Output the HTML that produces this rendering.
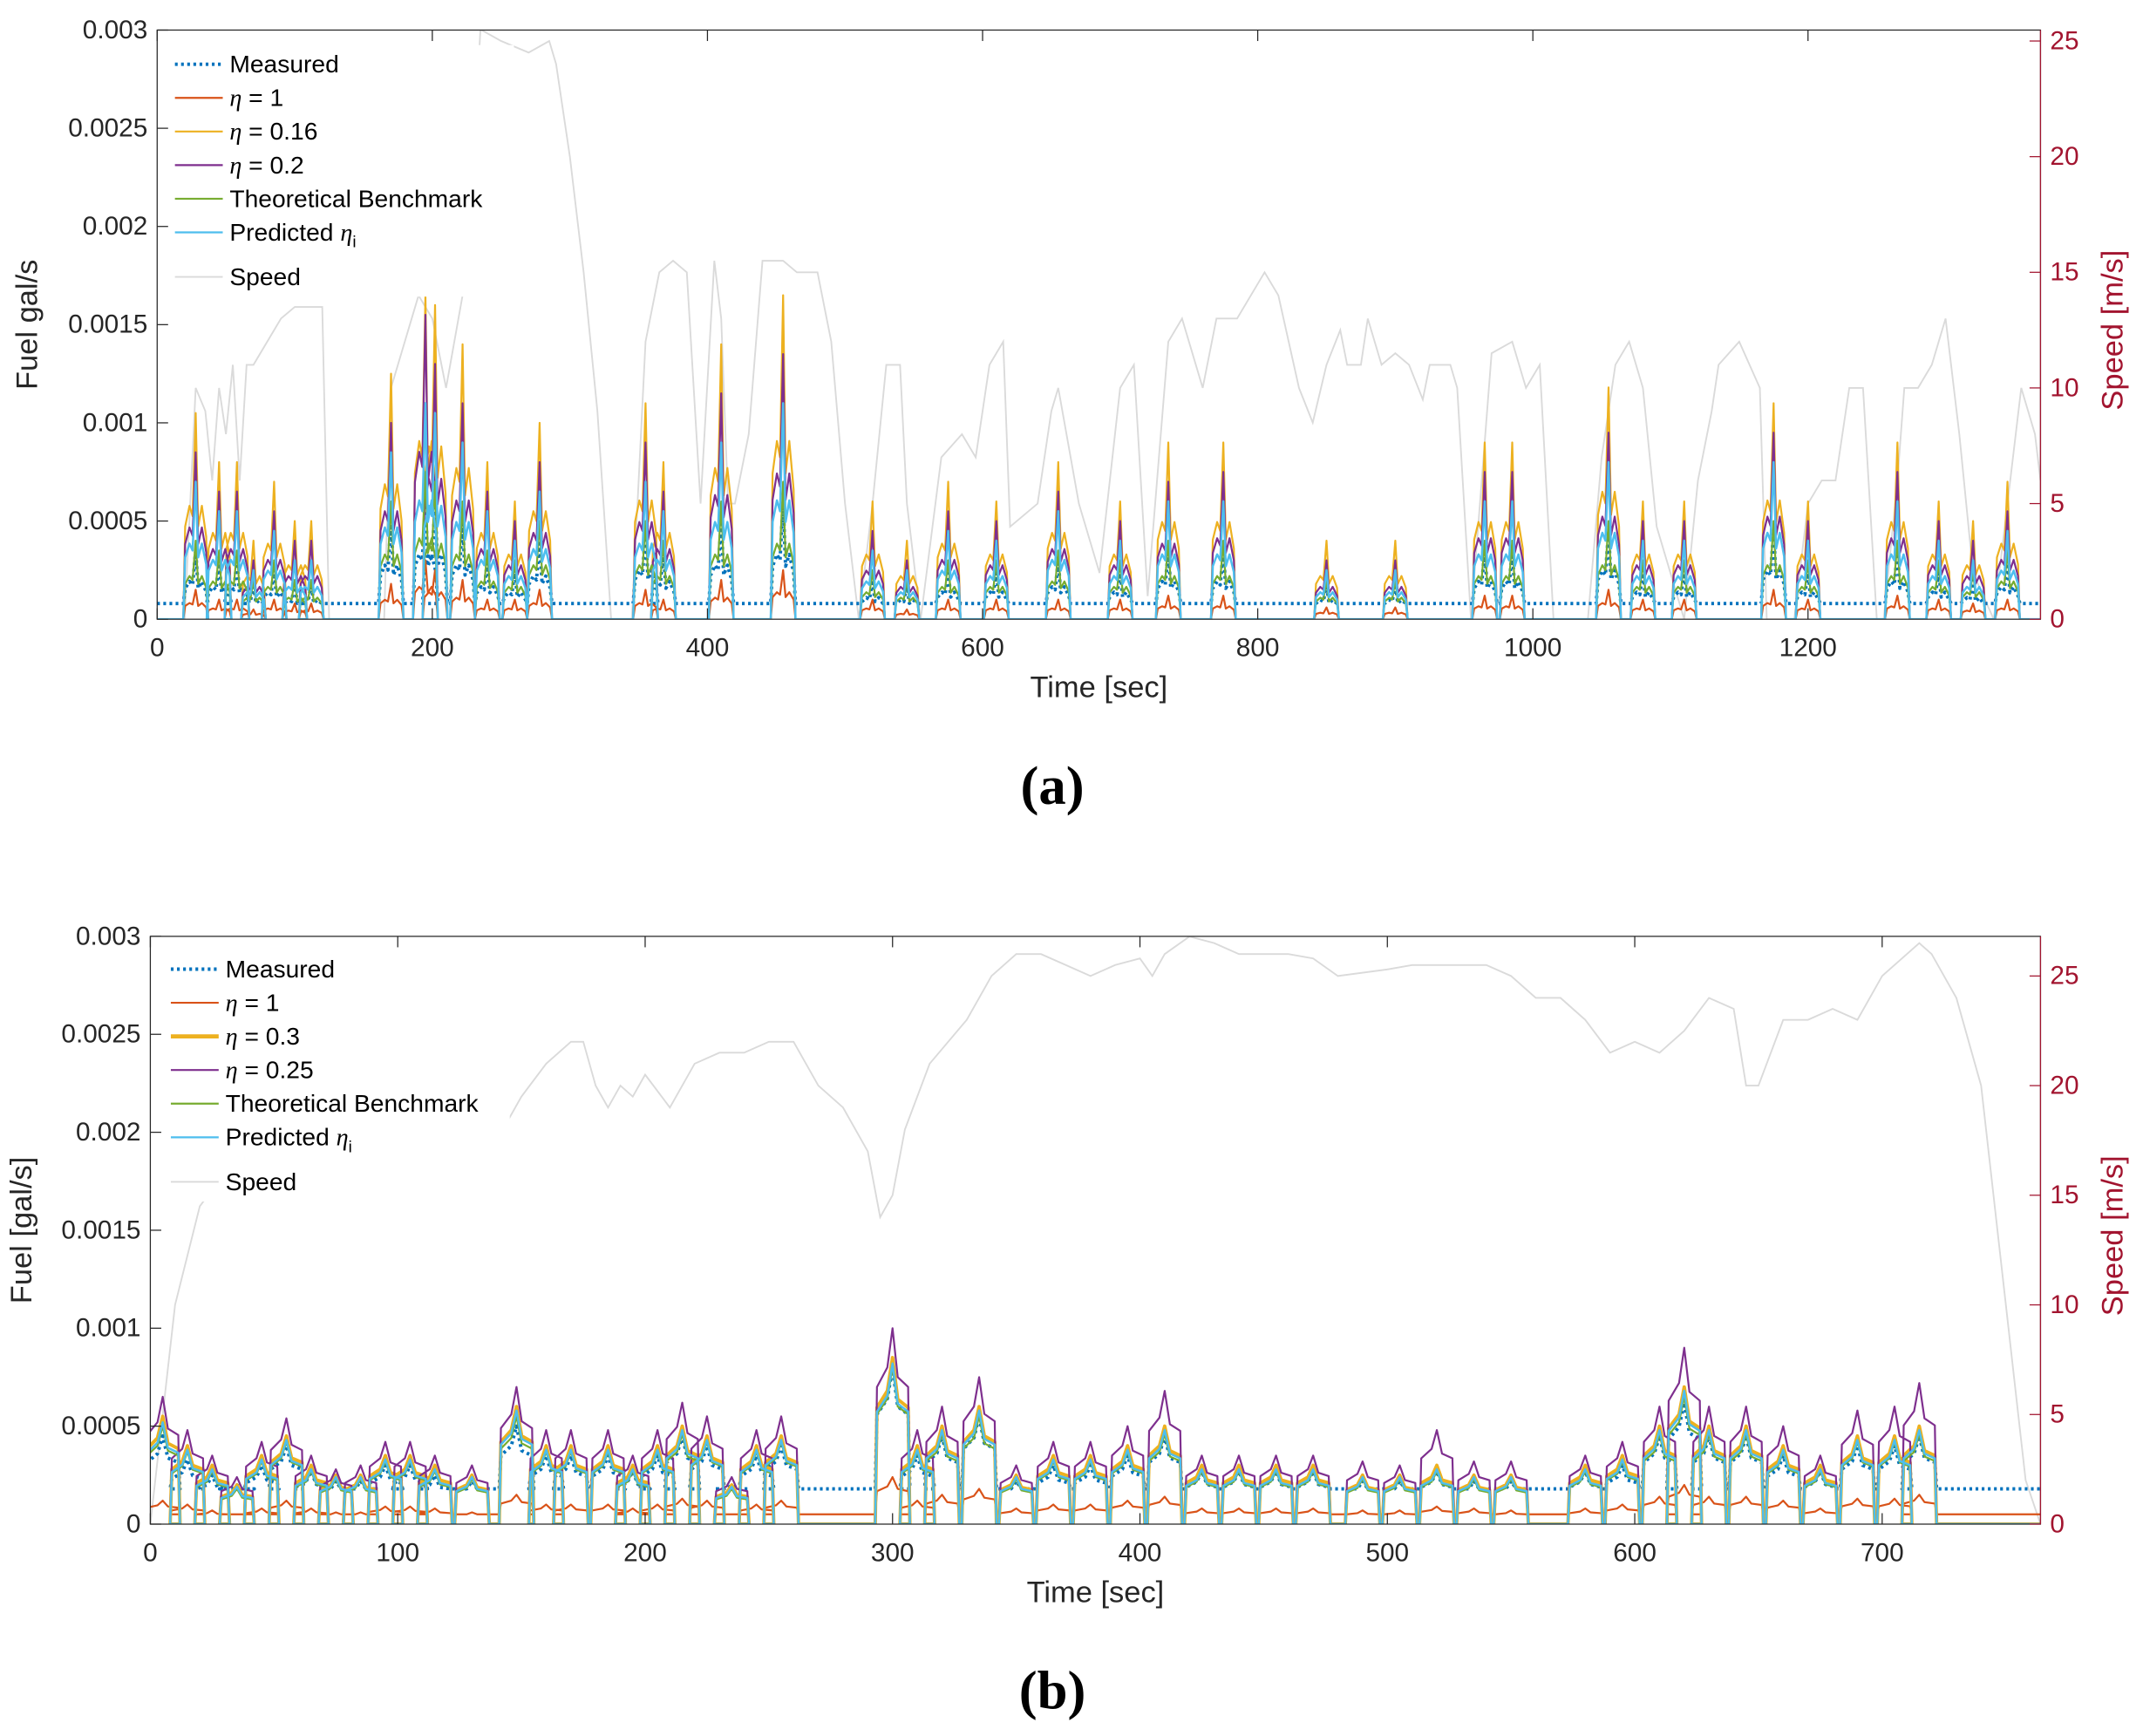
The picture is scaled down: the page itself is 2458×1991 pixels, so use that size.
<!DOCTYPE html>
<html><head><meta charset="utf-8"><style>
html,body{margin:0;padding:0;background:#fff;}
svg{display:block;font-family:"Liberation Sans",sans-serif;}
</style></head><body>
<svg id="fig" xmlns="http://www.w3.org/2000/svg" width="2458" height="1991" viewBox="0 0 1568 1270" preserveAspectRatio="none"></svg>
<script>
// ---------- Panel (a) data ----------
const aBurstTimes = [28,45,58,70,85,100,112,170,195,202,222,240,260,278,355,368,410,455,520,545,575,610,655,700,735,775,850,900,965,985,1055,1080,1110,1175,1200,1265,1295,1320,1345];
const aYellow =     [0.00105,0.0008,0.0008,0.0004,0.0007,0.0005,0.0005,0.00125,0.00165,0.0016,0.0014,0.0008,0.0006,0.001,0.0011,0.0008,0.0014,0.00165,0.0006,0.0004,0.0007,0.0006,0.0008,0.0006,0.0009,0.0009,0.0004,0.0004,0.0009,0.0009,0.00118,0.0006,0.0006,0.0011,0.0006,0.0009,0.0006,0.0005,0.0007];
const aPurple =     [0.00085,0.00065,0.00065,0.0003,0.00055,0.0004,0.0004,0.001,0.00155,0.0013,0.0011,0.00065,0.0005,0.0008,0.0009,0.00065,0.00115,0.00135,0.00045,0.0003,0.00055,0.0005,0.00065,0.0005,0.0007,0.00075,0.0003,0.0003,0.00075,0.00075,0.00095,0.0005,0.0005,0.00095,0.0005,0.00075,0.0005,0.0004,0.00055];
const aBlue =       [0.0007,0.00055,0.00055,0.00025,0.00045,0.0003,0.0003,0.00085,0.0011,0.00105,0.0009,0.00055,0.0004,0.00065,0.0007,0.00055,0.0009,0.0011,0.00035,0.00025,0.00045,0.0004,0.00055,0.0004,0.0006,0.0006,0.00025,0.00025,0.0006,0.0006,0.0008,0.0004,0.0004,0.0008,0.0004,0.0006,0.0004,0.0003,0.00045];
const aGreen =      [0.0004,0.00035,0.00035,0.0002,0.0003,0.0002,0.0002,0.0006,0.00075,0.0007,0.0006,0.00035,0.0003,0.0005,0.0005,0.0004,0.0006,0.0007,0.00025,0.0002,0.0003,0.0003,0.00035,0.0003,0.0004,0.0004,0.0002,0.0002,0.0004,0.0004,0.0005,0.0003,0.0003,0.0005,0.0003,0.0004,0.0003,0.00025,0.00035];
const aOrange =     [0.00015,0.0001,0.0001,0.00005,0.0001,0.00008,0.00008,0.00018,0.0003,0.00025,0.0002,0.0001,0.0001,0.00015,0.00015,0.0001,0.0002,0.00025,0.0001,0.00005,0.0001,0.0001,0.0001,0.0001,0.00012,0.00012,0.00006,0.00006,0.00012,0.00012,0.00015,0.0001,0.0001,0.00015,0.0001,0.00012,0.0001,0.00008,0.0001];
const aMeasured =   [0.00035,0.0003,0.0003,0.00018,0.00025,0.00018,0.00018,0.0005,0.0006,0.0006,0.0005,0.0003,0.00025,0.0004,0.00045,0.00035,0.0005,0.0006,0.0002,0.00018,0.00025,0.00025,0.0003,0.00025,0.00035,0.00035,0.00018,0.00018,0.00035,0.00035,0.00045,0.00025,0.00025,0.00045,0.00025,0.00035,0.00025,0.0002,0.0003];
const aSpeedT = [0,20,28,35,40,45,50,55,60,65,70,80,90,100,110,120,125,165,170,180,190,200,210,225,235,250,270,285,290,300,310,320,330,345,355,365,375,385,395,405,410,415,420,430,440,455,465,480,490,500,510,520,530,540,545,555,570,585,595,605,615,620,640,650,655,670,685,700,710,720,735,745,760,770,785,795,805,815,830,840,850,860,865,875,880,890,900,910,920,925,940,945,955,970,985,995,1005,1015,1040,1050,1060,1070,1080,1090,1110,1120,1130,1135,1150,1165,1170,1190,1200,1210,1220,1230,1240,1250,1255,1265,1270,1280,1290,1300,1310,1320,1335,1345,1355,1365,1369];
const aSpeedV = [0,0,10,9,6,10,8,11,6,11,11,12,13,13.5,13.5,13.5,0,0,10,12,14,13,10,15,25.5,25,24.5,25,24,20,15,9,0,0,12,15,15.5,15,5,15.5,13,5,5,8,15.5,15.5,15,15,12,5,0,5,11,11,5,0,7,8,7,11,12,4,5,9,10,5,2,10,11,1,12,13,10,13,13,14,15,14,10,8.5,11,12.5,11,11,13,11,11.5,11,9.5,11,11,10,0,11.5,12,10,11,0,0,7,11,12,10,4,0,6,9,11,12,10,0,0,5,6,6,10,10,0,0,6,10,10,11,13,8,2,0,5,10,8,6];
const aXTicks = [0,200,400,600,800,1000,1200];
const aYTicks = [0,0.0005,0.001,0.0015,0.002,0.0025,0.003];
const aYTickLabels = ["0","0.0005","0.001","0.0015","0.002","0.0025","0.003"];
const aSpeedTicks = [0,5,10,15,20,25];

// ---------- Panel (b) data ----------
const bBurstTimes = [5,15,25,35,45,55,65,75,85,95,105,115,130,148,160,170,185,195,205,215,225,235,245,255,300,310,320,335,350,365,380,395,410,425,440,455,470,490,505,520,535,550,580,595,610,620,630,645,660,675,690,705,715];
const bYellow =     [0.00055,0.0004,0.0003,0.0002,0.00035,0.00045,0.0003,0.00025,0.00025,0.00035,0.00035,0.0003,0.00025,0.0006,0.0004,0.0004,0.0004,0.0003,0.0004,0.0005,0.00045,0.0002,0.0004,0.00045,0.00085,0.0004,0.0005,0.0006,0.00025,0.00035,0.00035,0.0004,0.0005,0.0003,0.0003,0.0003,0.0003,0.00025,0.00025,0.0003,0.00025,0.00025,0.0003,0.00035,0.0005,0.0007,0.0005,0.0005,0.0004,0.0003,0.00045,0.00045,0.0005];
const bPurple =     [0.00065,0.00048,0.00035,0.00024,0.00042,0.00054,0.00035,0.00028,0.0003,0.00042,0.00042,0.00035,0.0003,0.0007,0.00048,0.00048,0.00048,0.00035,0.00048,0.00062,0.00055,0.00024,0.00048,0.00055,0.001,0.00048,0.0006,0.00075,0.0003,0.00042,0.00042,0.0005,0.00068,0.00035,0.00035,0.00035,0.00035,0.00032,0.0003,0.00048,0.00032,0.00032,0.00035,0.00042,0.0006,0.0009,0.0006,0.0006,0.0005,0.00035,0.00058,0.0006,0.00072];
const bBlue =       [0.00052,0.00038,0.00028,0.00019,0.00033,0.00043,0.00028,0.00024,0.00024,0.00033,0.00033,0.00028,0.00024,0.00058,0.00038,0.00038,0.00038,0.00028,0.00038,0.00048,0.00043,0.00019,0.00038,0.00043,0.00082,0.00038,0.00048,0.00058,0.00024,0.00033,0.00033,0.00038,0.00048,0.00028,0.00028,0.00028,0.00028,0.00024,0.00024,0.00028,0.00024,0.00024,0.00028,0.00033,0.00048,0.00068,0.00048,0.00048,0.00038,0.00028,0.00043,0.00043,0.00048];
const bGreen =      [0.0005,0.00037,0.00027,0.00018,0.00032,0.00042,0.00027,0.00023,0.00023,0.00032,0.00032,0.00027,0.00023,0.00055,0.00037,0.00037,0.00037,0.00027,0.00037,0.00046,0.00042,0.00018,0.00037,0.00042,0.0008,0.00037,0.00046,0.00055,0.00023,0.00032,0.00032,0.00037,0.00046,0.00027,0.00027,0.00027,0.00027,0.00023,0.00023,0.00027,0.00023,0.00023,0.00027,0.00032,0.00046,0.00065,0.00046,0.00046,0.00037,0.00027,0.00042,0.00042,0.00046];
const bOrange =     [0.00012,0.0001,0.00007,0.00005,0.00008,0.00012,0.00008,0.00006,0.00006,0.00009,0.00009,0.00008,0.00006,0.00015,0.0001,0.0001,0.0001,0.00008,0.0001,0.00013,0.00012,0.00005,0.0001,0.00012,0.00024,0.00012,0.00015,0.00018,0.00008,0.0001,0.0001,0.00012,0.00014,0.00008,0.00008,0.00008,0.00008,0.00007,0.00007,0.00009,0.00008,0.00007,0.00008,0.0001,0.00014,0.0002,0.00014,0.00014,0.00012,0.00008,0.00013,0.00013,0.00015];
const bMeasured =   [0.00045,0.00033,0.00025,0.0002,0.0003,0.0004,0.00027,0.00022,0.00022,0.0003,0.0003,0.00025,0.00022,0.0005,0.00035,0.00035,0.00035,0.00027,0.00035,0.00045,0.0004,0.0002,0.00035,0.0004,0.0008,0.00035,0.00045,0.00055,0.00022,0.0003,0.0003,0.00035,0.00045,0.00027,0.00027,0.00027,0.00027,0.00022,0.00022,0.00027,0.00022,0.00022,0.00027,0.0003,0.00045,0.00062,0.00045,0.00045,0.00035,0.00027,0.0004,0.0004,0.00045];
const bSpeedT = [0,5,10,20,30,50,80,110,140,150,160,170,175,180,185,190,195,200,210,220,230,240,250,260,270,280,290,295,300,305,315,330,340,350,360,370,380,390,400,405,410,420,430,440,460,470,480,500,510,520,540,550,560,570,580,590,600,610,620,630,640,645,650,660,670,680,690,700,710,715,720,730,740,750,758,764];
const bSpeedV = [0,5,10,14.5,16,17,17.5,17.5,17.5,19.5,21,22,22,20,19,20,19.5,20.5,19,21,21.5,21.5,22,22,20,19,17,14,15,18,21,23,25,26,26,25.5,25,25.5,25.8,25,26,26.8,26.5,26,26,25.8,25,25.3,25.5,25.5,25.5,25,24,24,23,21.5,22,21.5,22.5,24,23.5,20,20,23,23,23.5,23,25,26,26.5,26,24,20,10,2,0];
const bXTicks = [0,100,200,300,400,500,600,700];
const bYTicks = [0,0.0005,0.001,0.0015,0.002,0.0025,0.003];
const bYTickLabels = ["0","0.0005","0.001","0.0015","0.002","0.0025","0.003"];
const bSpeedTicks = [0,5,10,15,20,25];

const NS = "http://www.w3.org/2000/svg";
const svg = document.getElementById("fig");
function mk(tag, attrs, parent){const e=document.createElementNS(NS,tag);for(const k in attrs)e.setAttribute(k,attrs[k]);(parent||svg).appendChild(e);return e;}
function pathOf(pts,sx,sy){return pts.map((p,i)=>(i?"L":"M")+sx(p[0]).toFixed(2)+","+sy(p[1]).toFixed(2)).join("");}
function burstPts(times,vals,base,shape,w,tmax){
  const pts=[[0,base]];
  times.forEach((t,i)=>{const p=vals[i];shape.forEach(s=>{pts.push([t+s[0]*w,s[1]===0?base:Math.max(base,s[1]*p)]);});});
  pts.push([tmax,base]);return pts;
}
function panel(c){
  const g=mk("g",{});
  
  
  const sx=t=>c.x0+(t-0)*(c.x1-c.x0)/c.tmax;
  const sy=v=>c.y0-v*(c.y0-c.y1)/0.003;
  const ss=v=>c.y0-v*c.spx;
  mk("rect",{x:c.x0,y:c.y1,width:c.x1-c.x0,height:c.y0-c.y1,fill:"#fff"},g);
  const clip=mk("clipPath",{id:c.name+"-clip"},g);
  mk("rect",{x:c.x0,y:c.y1,width:c.x1-c.x0,height:c.y0-c.y1},clip);
  const plot=mk("g",{"clip-path":"url(#"+c.name+"-clip)"},g);
  const sp=c.speedT.map((t,i)=>[t,c.speedV[i]]);
  const spl=mk("path",{d:pathOf(sp,sx,ss),fill:"none",stroke:"#dadada","stroke-width":1.2},plot);
  
  
  const shape=c.shape, w=c.w;
  const series=[
    ["measured-line",c.measured,c.mbase,"#0072bd",2.5,"2,2.5"],
    ["eta-1-line",c.orange,c.obase,"#d95319",1.4,null],
    ["eta-yellow-line",c.yellow,0,"#edb120",c.yw,null],
    ["eta-purple-line",c.purple,0,"#7e2f8e",1.4,null],
    ["benchmark-line",c.green,0,"#77ac30",1.4,null],
    ["predicted-line",c.blue,0,"#4dbeee",1.6,null]];
  series.forEach(s=>{
    const pts=burstPts(c.times,s[1],s[2],shape,w,c.tmax);
    const a={d:pathOf(pts,sx,sy),fill:"none",stroke:s[3],"stroke-width":s[4],"stroke-linejoin":"round"};
    if(s[5])a["stroke-dasharray"]=s[5];
    const p=mk("path",a,plot);
    
    
  });
  mk("rect",{x:c.x0,y:c.y1,width:c.x1-c.x0,height:c.y0-c.y1,fill:"none",stroke:"#262626","stroke-width":0.8},g);
  mk("line",{x1:c.x1,y1:c.y1,x2:c.x1,y2:c.y0,stroke:"#a2142f","stroke-width":0.8},g);
  c.xt.forEach(t=>{
    mk("line",{x1:sx(t),y1:c.y0,x2:sx(t),y2:c.y0-8,stroke:"#262626","stroke-width":0.8},g);
    mk("line",{x1:sx(t),y1:c.y1,x2:sx(t),y2:c.y1+8,stroke:"#262626","stroke-width":0.8},g);
    const tx=mk("text",{x:sx(t),y:c.y0+27,"font-size":19,"text-anchor":"middle",fill:"#262626"},g);
    tx.textContent=t;
    
    
  });
  c.yt.forEach((v,i)=>{
    mk("line",{x1:c.x0,y1:sy(v),x2:c.x0+8,y2:sy(v),stroke:"#262626","stroke-width":0.8},g);
    const tx=mk("text",{x:c.x0-7,y:sy(v)+6,"font-size":19,"text-anchor":"end",fill:"#262626"},g);
    tx.textContent=c.ytl[i];
    
    
  });
  c.st.forEach(v=>{
    mk("line",{x1:c.x1,y1:ss(v),x2:c.x1-8,y2:ss(v),stroke:"#a2142f","stroke-width":0.8},g);
    const tx=mk("text",{x:c.x1+7,y:ss(v)+6,"font-size":19,fill:"#a2142f"},g);
    tx.textContent=v;
    
    
  });
  const xl=mk("text",{x:(c.x0+c.x1)/2,y:c.y0+57,"font-size":22,"text-anchor":"middle",fill:"#262626"},g);
  xl.textContent="Time [sec]";
  
  
  const ym=(c.y0+c.y1)/2;
  const yl=mk("text",{x:c.ylx,y:ym,"font-size":22,"text-anchor":"middle",fill:"#262626",transform:"rotate(-90 "+c.ylx+" "+ym+")"},g);
  yl.textContent=c.ylabel;
  
  
  const sl=mk("text",{x:1553,y:ym+4,"font-size":22,"text-anchor":"middle",fill:"#a2142f",transform:"rotate(-90 1553 "+(ym+4)+")"},g);
  sl.textContent="Speed [m/s]";
  
  
  const lg=mk("g",{},g);
  
  
  mk("rect",{x:c.lx-4,y:c.ly-14,width:252,height:184,fill:"#fff"},lg);
  c.legend.forEach((e,i)=>{
    const y=c.ly+i*24.6+(i===6?8:0);
    const a={x1:c.lx,y1:y,x2:c.lx+35,y2:y,stroke:e[1],"stroke-width":e[2]};
    if(e[3])a["stroke-dasharray"]=e[3];
    mk("line",a,lg);
    const tx=mk("text",{x:c.lx+40,y:y+6,"font-size":18,fill:"#000"},lg);
    tx.innerHTML=e[0];
    
    
  });
  const cap=mk("text",{x:c.capx,y:c.capy,"font-size":40,"font-family":"Liberation Serif, serif","font-weight":"bold","text-anchor":"middle",fill:"#000"},g);
  cap.innerHTML=c.cap;
  
  
}
const eta='<tspan font-style="italic" font-family="Liberation Serif, serif">η</tspan>';
const predicted='Predicted <tspan font-style="italic" font-family="Liberation Serif, serif">η</tspan><tspan font-size="12" dy="5">i</tspan>';
panel({name:"panel-a",x0:115,x1:1493,y0:453,y1:22,tmax:1369,spx:16.92,
  times:aBurstTimes,yellow:aYellow,purple:aPurple,blue:aBlue,green:aGreen,orange:aOrange,measured:aMeasured,
  mbase:0.00008,obase:0,yw:1.4,
  shape:[[-1,0],[-0.85,0.45],[-0.5,0.55],[-0.25,0.5],[0,1],[0.2,0.45],[0.5,0.55],[0.85,0.4],[1,0]],w:9,
  speedT:aSpeedT,speedV:aSpeedV,xt:aXTicks,yt:aYTicks,ytl:aYTickLabels,st:aSpeedTicks,
  ylabel:"Fuel gal/s",ylx:27,lx:128,ly:47,
  legend:[["Measured","#0072bd",2.5,"2,2.5"],[eta+" = 1","#d95319",1.4],[eta+" = 0.16","#edb120",1.4],[eta+" = 0.2","#7e2f8e",1.4],["Theoretical Benchmark","#77ac30",1.4],[predicted,"#4dbeee",1.4],["Speed","#dadada",1.2]],
  cap:"(a)",capx:770,capy:588});
panel({name:"panel-b",x0:110,x1:1493,y0:1115,y1:685,tmax:764,spx:16.04,
  times:bBurstTimes,yellow:bYellow,purple:bPurple,blue:bBlue,green:bGreen,orange:bOrange,measured:bMeasured,
  mbase:0.00018,obase:0.00005,yw:2.5,
  shape:[[-1,0],[-0.9,0.7],[-0.3,0.8],[0,1],[0.3,0.75],[0.9,0.7],[1,0]],w:7,
  speedT:bSpeedT,speedV:bSpeedV,xt:bXTicks,yt:bYTicks,ytl:bYTickLabels,st:bSpeedTicks,
  ylabel:"Fuel [gal/s]",ylx:23,lx:125,ly:709,
  legend:[["Measured","#0072bd",2.5,"2,2.5"],[eta+" = 1","#d95319",1.4],[eta+" = 0.3","#edb120",3],[eta+" = 0.25","#7e2f8e",1.4],["Theoretical Benchmark","#77ac30",1.4],[predicted,"#4dbeee",1.4],["Speed","#dadada",1.2]],
  cap:"(b)",capx:770,capy:1250});
</script>
</body></html>
